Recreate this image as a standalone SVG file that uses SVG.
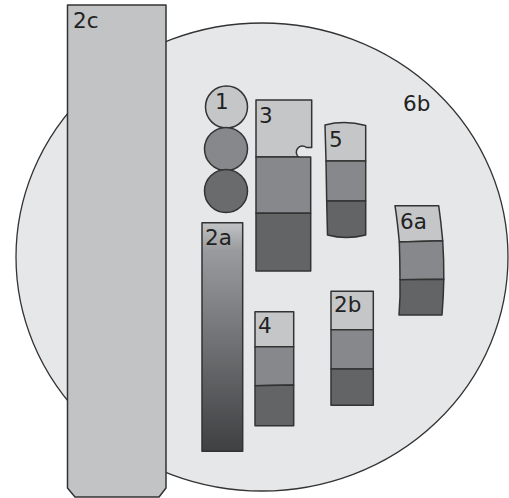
<svg xmlns="http://www.w3.org/2000/svg" width="509" height="498" viewBox="0 0 509 498">
<style>
.s{stroke:#333;stroke-width:1.5;stroke-linejoin:round}
.l{fill:#c5c6c8}.m{fill:#87888b}.d{fill:#636466}
text{font-family:"DejaVu Sans",sans-serif;font-size:21.5px;fill:#222}
</style>
<defs>
<linearGradient id="g2a" x1="0" y1="0" x2="0" y2="1">
<stop offset="0" stop-color="#c2c3c5"/>
<stop offset="0.12" stop-color="#9a9b9e"/>
<stop offset="1" stop-color="#3f4042"/>
</linearGradient>
</defs>
<rect width="509" height="498" fill="#fff"/>
<g id="n6b">
<ellipse cx="262" cy="257" rx="246" ry="234" fill="#e6e7e8" stroke="#333" stroke-width="1.3"/>
<text x="403" y="111">6b</text>
</g>
<g id="n2c">
<path class="s" d="M67.5,5 H166 V488 L159,497 H75 L67.5,488 Z" fill="#c2c3c5"/>
<text x="73" y="28">2c</text>
</g>
<g id="n1">
<circle class="s l" cx="226.5" cy="107" r="21"/>
<circle class="s m" cx="226" cy="149" r="21.5"/>
<circle class="s" cx="226" cy="191" r="21.5" fill="#6a6b6d"/>
<text x="215" y="109">1</text>
</g>
<g id="n3">
<path class="s l" d="M256,100 H311.7 V147.5 H306.5 A5,5 0 0 0 298.5,157 H256 Z"/>
<rect class="s m" x="256" y="157" width="54.7" height="56.3"/>
<rect class="s d" x="256" y="213.3" width="54.7" height="57.7"/>
<text x="259" y="123">3</text>
</g>
<g id="n5">
<path class="s l" d="M325,125 Q345,120 365.7,125.5 V161 H326 Z"/>
<path class="s m" d="M326,161 H365.7 V201 H326.7 Z"/>
<path class="s d" d="M326.7,201 H365.7 V235 Q346,240 327.5,235 Z"/>
<text x="329" y="147">5</text>
</g>
<g id="n6a">
<path class="s l" d="M395,205.7 H438.7 Q441,222 442.7,240.7 L399.3,242 Q397.5,222 395,205.7 Z"/>
<path class="s m" d="M399.3,242 L442.7,240.7 Q444,260 443.8,279.3 L400,279.8 Q400,260 399.3,242 Z"/>
<path class="s d" d="M400,279.8 L443.8,279.3 Q443.5,297 442,315 L399,315 Q400.5,297 400,279.8 Z"/>
<text x="400" y="229">6a</text>
</g>
<g id="n2a">
<rect class="s" x="202" y="222.7" width="40.7" height="228.6" fill="url(#g2a)"/>
<text x="205" y="245">2a</text>
</g>
<g id="n4">
<rect class="s l" x="255" y="311.7" width="38.7" height="35"/>
<path class="s m" d="M255,346.7 H293.7 V385 L255,385.7 Z"/>
<path class="s d" d="M255,385.7 L293.7,385 V425.7 H255 Z"/>
<text x="258" y="333">4</text>
</g>
<g id="n2b">
<rect class="s l" x="331" y="291.3" width="42.3" height="38.4"/>
<rect class="s m" x="331" y="329.7" width="42.3" height="39.3"/>
<rect class="s d" x="331" y="369" width="42.3" height="36.3"/>
<text x="334" y="312">2b</text>
</g>
<g id="connectors"/>
</svg>
